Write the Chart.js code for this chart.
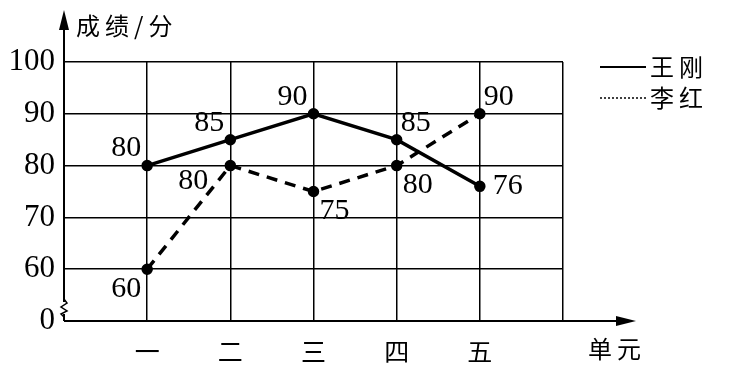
<!DOCTYPE html>
<html>
<head>
<meta charset="utf-8">
<script src="https://cdn.jsdelivr.net/npm/chart.js@4.4.1/dist/chart.umd.min.js"></script>
<style>
  body { margin: 0; background: #fff; }
  canvas { display: block; }
</style>
</head>
<body>
<canvas id="chart" width="730" height="368"></canvas>
<script>
// data
const units = ['一', '二', '三', '四', '五'];
const wangGang = [80, 85, 90, 85, 76];
const liHong = [60, 80, 75, 80, 90];
const seriesNames = ['王刚', '李红'];

// where each value label sits relative to its point
const wangLabelPos = ['nw', 'nw', 'nw', 'ne', 'e'];
const liLabelPos = ['sw', 'wsw', 'se', 'se', 'ne'];

const numFont = '30px "Liberation Serif", "DejaVu Serif", serif';
const cjkFont = '24px "Noto Sans CJK SC", sans-serif';

function toPoints(values) {
  return values.map((v, i) => ({ x: i + 1, y: v }));
}

const extras = {
  id: 'extras',
  afterDatasetsDraw(chart) {
    const ctx = chart.ctx;
    const area = chart.chartArea;
    ctx.save();
    ctx.strokeStyle = '#000';
    ctx.fillStyle = '#000';

    // y axis with arrow
    ctx.lineWidth = 2;
    ctx.beginPath();
    ctx.moveTo(area.left, area.bottom);
    ctx.lineTo(area.left, 20);
    ctx.stroke();
    ctx.beginPath();
    ctx.moveTo(area.left, 10);
    ctx.lineTo(area.left - 5, 30);
    ctx.lineTo(area.left + 5, 30);
    ctx.closePath();
    ctx.fill();

    // x axis with arrow
    ctx.beginPath();
    ctx.moveTo(area.left, area.bottom);
    ctx.lineTo(626, area.bottom);
    ctx.stroke();
    ctx.beginPath();
    ctx.moveTo(636, area.bottom);
    ctx.lineTo(616, area.bottom - 5);
    ctx.lineTo(616, area.bottom + 5);
    ctx.closePath();
    ctx.fill();

    // axis break between 0 and 60
    const yb = area.bottom - 13;
    ctx.fillStyle = '#fff';
    ctx.fillRect(area.left - 3, yb - 6, 6, 12);
    ctx.lineWidth = 1.5;
    ctx.beginPath();
    ctx.moveTo(area.left, yb - 9);
    ctx.lineTo(area.left + 3, yb - 5);
    ctx.lineTo(area.left - 3, yb - 1);
    ctx.lineTo(area.left + 3, yb + 3);
    ctx.lineTo(area.left - 3, yb + 6);
    ctx.lineTo(area.left, yb + 9);
    ctx.stroke();
    ctx.fillStyle = '#000';

    // axis titles
    ctx.font = cjkFont;
    ctx.letterSpacing = '5px';
    ctx.textBaseline = 'middle';
    ctx.textAlign = 'left';
    ctx.fillText('成绩/分', area.left + 12, 26);
    ctx.fillText('单元', 588, 349);
    ctx.letterSpacing = '0px';

    // value labels
    ctx.font = numFont;
    const placeLabel = (pt, text, pos) => {
      let x = pt.x, y = pt.y;
      if (pos === 'nw') { ctx.textAlign = 'right'; ctx.textBaseline = 'bottom'; x -= 6; y -= 2; }
      if (pos === 'ne') { ctx.textAlign = 'left'; ctx.textBaseline = 'bottom'; x += 4; y -= 2; }
      if (pos === 'sw') { ctx.textAlign = 'right'; ctx.textBaseline = 'top'; x -= 6; y += 5; }
      if (pos === 'wsw') { ctx.textAlign = 'right'; ctx.textBaseline = 'top'; x -= 22; y += 1; }
      if (pos === 'se') { ctx.textAlign = 'left'; ctx.textBaseline = 'top'; x += 6; y += 5; }
      if (pos === 'e') { ctx.textAlign = 'left'; ctx.textBaseline = 'middle'; x += 13; }
      ctx.fillText(text, x, y);
    };
    const posLists = [wangLabelPos, liLabelPos];
    chart.data.datasets.forEach((ds, di) => {
      const meta = chart.getDatasetMeta(di);
      meta.data.forEach((pt, i) => placeLabel(pt, String(ds.data[i].y), posLists[di][i]));
    });

    // legend
    ctx.font = cjkFont;
    ctx.letterSpacing = '5px';
    ctx.textAlign = 'left';
    ctx.textBaseline = 'middle';
    chart.data.datasets.forEach((ds, di) => {
      const y = 67 + di * 31;
      ctx.lineWidth = di === 0 ? 2 : 1.5;
      ctx.setLineDash(di === 0 ? [] : [2, 2]);
      ctx.beginPath();
      ctx.moveTo(600, y);
      ctx.lineTo(646, y);
      ctx.stroke();
      ctx.setLineDash([]);
      ctx.fillText(ds.label, 650, y);
    });
    ctx.restore();
  }
};

new Chart(document.getElementById('chart'), {
  type: 'line',
  data: {
    datasets: [
      {
        label: seriesNames[0],
        data: toPoints(wangGang),
        borderColor: '#000',
        backgroundColor: '#000',
        borderWidth: 3.5,
        pointRadius: 4,
        pointBackgroundColor: '#000',
        tension: 0
      },
      {
        label: seriesNames[1],
        data: toPoints(liHong),
        borderColor: '#000',
        backgroundColor: '#000',
        borderWidth: 3.5,
        borderDash: [11, 8],
        pointRadius: 4,
        pointBackgroundColor: '#000',
        tension: 0
      }
    ]
  },
  options: {
    responsive: false,
    animation: false,
    layout: { padding: { left: 0, top: 62, right: 167, bottom: 0 } },
    plugins: {
      legend: { display: false },
      tooltip: { enabled: false }
    },
    scales: {
      x: {
        type: 'linear',
        min: 0,
        max: 6,
        afterFit: (s) => { s.height = 47; },
        afterBuildTicks: (s) => { s.ticks = [0, 1, 2, 3, 4, 5, 6].map(v => ({ value: v })); },
        ticks: {
          color: '#000',
          padding: 15,
          maxRotation: 0,
          font: { family: '"Noto Sans CJK SC", sans-serif', size: 25 },
          callback: (v) => units[v - 1] || ''
        },
        grid: { color: '#000', lineWidth: 1.5, drawTicks: false },
        border: { display: false }
      },
      y: {
        min: 50,
        max: 100,
        afterFit: (s) => { s.width = 64; },
        ticks: {
          stepSize: 10,
          color: '#000',
          padding: 9,
          font: { family: '"Liberation Serif", serif', size: 31 },
          callback: (v) => v === 50 ? '0' : String(v)
        },
        grid: { color: '#000', lineWidth: 1.5, drawTicks: false },
        border: { display: false }
      }
    }
  },
  plugins: [extras]
});
</script>
</body>
</html>
